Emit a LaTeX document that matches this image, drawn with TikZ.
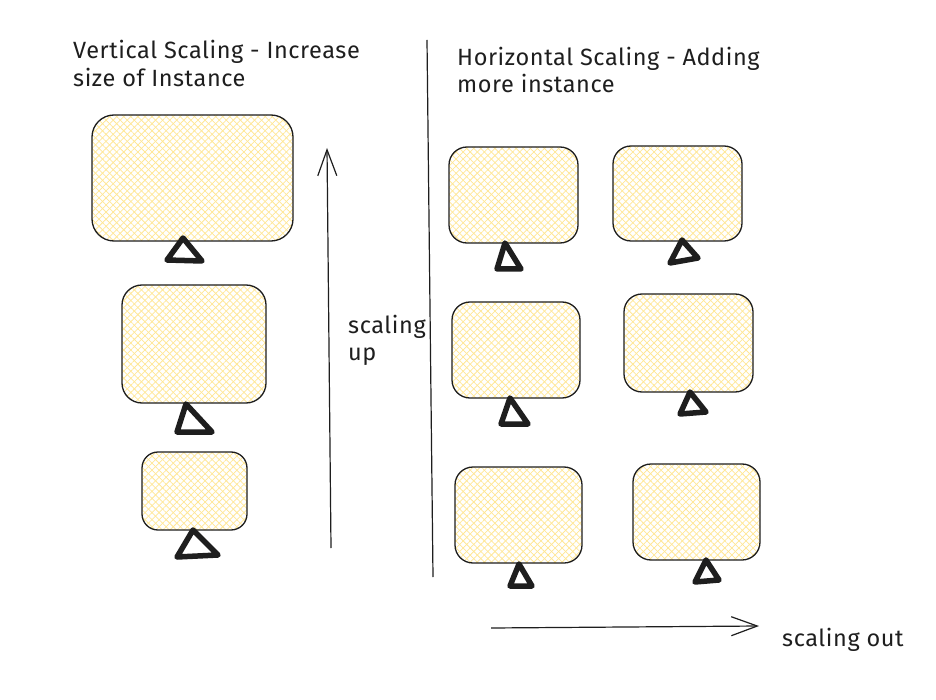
\documentclass[tikz,border=0pt]{standalone}
\usepackage{fontspec}
\setmainfont{Fira Sans}
\newfontfamily\handfont[LetterSpace=2.5]{Fira Sans}
\usetikzlibrary{patterns.meta,arrows.meta}
\definecolor{ink}{HTML}{1E1E1E}
\definecolor{hatch}{HTML}{FFE796}
\begin{document}
\begin{tikzpicture}[x=1pt,y=-1pt,
  screen/.style={draw=ink, line width=1.3pt, rounded corners=#1, inner sep=0pt,
    preaction={pattern={Lines[angle=45,distance=5pt,line width=0.75pt]}, pattern color=hatch},
    pattern={Lines[angle=-45,distance=5pt,line width=0.75pt]}, pattern color=hatch},
  screen/.default=18pt,
  stand/.style={draw=ink, line width=5.5pt, line join=round, line cap=round},
  txt/.style={text=ink, inner sep=0pt, anchor=base west, font=\handfont\fontsize{23.5}{28}\selectfont},
  arrowline/.style={draw=ink, line width=1.2pt, -{Straight Barb[length=26pt,width=19pt,line width=1.2pt]}}
]
\fill[white] (0,0) rectangle (936,700);
\useasboundingbox (0,0) rectangle (936,700);

% titles
\node[txt] (t1) at (73,59) {Vertical Scaling - Increase};
\node[txt] (t2) at (73,87) {size of Instance};
\node[txt] (t3) at (457,66) {Horizontal Scaling - Adding};
\node[txt] (t4) at (457,93) {more instance};

% left column screens
\node[screen=22pt, minimum width=201pt, minimum height=126pt] (v1) at (192.5,178) {};
\draw[stand] (183,238) -- (167,260) -- (202,261) -- cycle;
\node[screen=20pt, minimum width=144pt, minimum height=118pt] (v2) at (194,344) {};
\draw[stand] (186,404) -- (177,432) -- (212,432) -- cycle;
\node[screen=16pt, minimum width=105pt, minimum height=78pt] (v3) at (194.5,491) {};
\draw[stand] (193,530) -- (177,557) -- (218,555) -- cycle;

% scaling up arrow
\coordinate (upS) at (331,548);
\coordinate (upE) at (327,148);
\draw[arrowline] (upS) -- (upE);
\node[txt] (su1) at (348,333) {scaling};
\node[txt] (su2) at (348,360) {up};

% divider
\coordinate (d1) at (427,40);
\coordinate (d2) at (433,577);
\draw[draw=ink, line width=1.2pt] (d1) -- (d2);

% right grid screens
\node[screen, minimum width=129pt, minimum height=96pt] (h1) at (513.5,195) {};
\draw[stand] (505,243) -- (497,269) -- (521,269) -- cycle;
\node[screen, minimum width=129pt, minimum height=95pt] (h2) at (677.5,193.5) {};
\draw[stand] (682,240) -- (670,263) -- (698,258) -- cycle;
\node[screen, minimum width=128pt, minimum height=96pt] (h3) at (516,350) {};
\draw[stand] (510,398) -- (501,424) -- (528,424) -- cycle;
\node[screen, minimum width=129pt, minimum height=98pt] (h4) at (688.5,343) {};
\draw[stand] (690,392) -- (680,414) -- (706,412) -- cycle;
\node[screen, minimum width=127pt, minimum height=96pt] (h5) at (518.5,515) {};
\draw[stand] (519,564) -- (510,586) -- (532,586) -- cycle;
\node[screen, minimum width=127pt, minimum height=96pt] (h6) at (696.5,512) {};
\draw[stand] (706,560) -- (695,582) -- (719,580) -- cycle;

% scaling out arrow
\coordinate (oS) at (491,628);
\coordinate (oE) at (759,626);
\draw[arrowline] (oS) -- (oE);
\node[txt] (so) at (782,646) {scaling out};
\end{tikzpicture}
\end{document}
